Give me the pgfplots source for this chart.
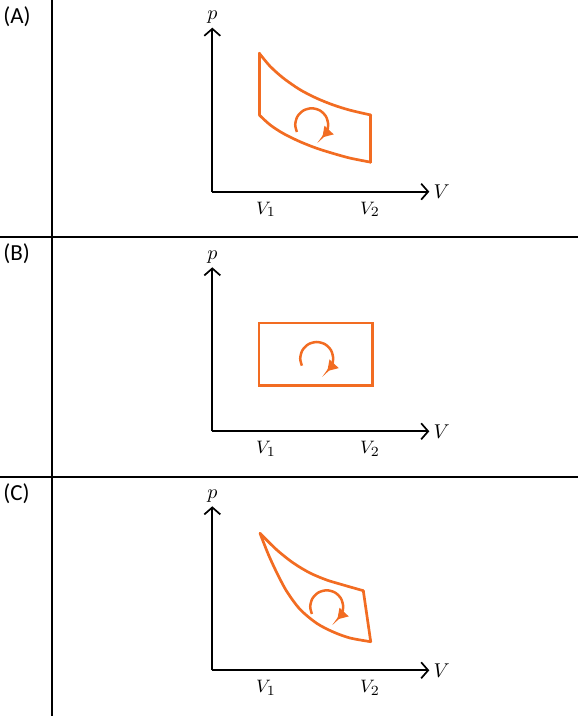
\documentclass[border=0pt]{standalone}
\usepackage{fontspec}
\setmainfont{Carlito}
\usepackage{pgfplots}
\pgfplotsset{compat=1.18}
\usetikzlibrary{arrows.meta}
\definecolor{cyc}{RGB}{242,108,34}

\pgfplotsset{pv/.style={
  scale only axis, width=108.5pt, height=82pt,
  xmin=0,xmax=217,ymin=0,ymax=164,
  axis lines=left,
  axis line style={line width=0.85pt, -{Straight Barb[length=3.5pt,width=8pt]}},
  xtick={53.7,157.7}, xticklabels={$V_1$,$V_2$},
  ytick=\empty,
  major tick length=0pt,
  xticklabel style={font=\fontsize{9.5}{10}\selectfont, yshift=-1.5pt},
  xlabel={$V$}, ylabel={$p$},
  every axis x label/.style={at={(axis description cs:1,0)}, anchor=west, inner sep=2pt, font=\fontsize{10}{10}\selectfont},
  every axis y label/.style={at={(axis description cs:0,1)}, anchor=south, inner sep=2pt, font=\fontsize{10}{10}\selectfont},
  clip=false,
  anchor=origin,
},
cycl/.style={cyc, line width=1.35pt, line cap=round, line join=round, no marks},
arr/.style={cyc, line width=1.25pt, smooth, no marks, -{Triangle[length=5pt,width=6pt]}}
}

\begin{document}
\begin{tikzpicture}
\useasboundingbox (0,0) rectangle (289pt,358pt);
% table rules
\draw[line width=1pt] (26pt,0) -- (26pt,358pt);
\draw[line width=1pt] (0,239.25pt) -- (289pt,239.25pt);
\draw[line width=1pt] (0,119.25pt) -- (289pt,119.25pt);
\node[anchor=west, inner sep=0, font=\fontsize{11.5}{12}\selectfont] at (1.5pt,349.5pt) {(A)};
\node[anchor=west, inner sep=0, font=\fontsize{11.5}{12}\selectfont] at (1.5pt,231pt) {(B)};
\node[anchor=west, inner sep=0, font=\fontsize{11.5}{12}\selectfont] at (1.5pt,111pt) {(C)};

% Panel A
\begin{axis}[pv, at={(106.15pt,262.15pt)}]
\addplot[cycl, smooth] coordinates {(47,138.4) (57.7,125.5) (71,113.6) (87.7,102) (104.4,93.4) (121,86.7) (137.7,81.5) (158.4,76.7)};
\addplot[cycl, smooth] coordinates {(47,76.7) (57.7,66.9) (71,58.2) (87.7,50) (104.4,43.4) (121,38.2) (137.7,33.6) (158.4,29.5)};
\addplot[cycl] coordinates {(47,138.4) (47,76.7)};
\addplot[cycl] coordinates {(158.4,76.7) (158.4,29.5)};
\addplot[arr] coordinates {(84.6,59.7) (82.9,66.9) (85.1,75.15) (91.15,81.2) (99.4,83.4) (107.65,81.2) (113.7,75.15) (115.9,66.9) (114.4,59.9) (110.0,54.3)};
\end{axis}

% Panel B
\begin{axis}[pv, at={(106.15pt,142.35pt)}]
\addplot[cycl, line join=miter] coordinates {(46.7,46) (160,46) (160,108.3) (46.7,108.3)} -- cycle;
\addplot[arr] coordinates {(89.6,65.6) (87.9,72.8) (90.1,81.05) (96.15,87.1) (104.4,89.3) (112.65,87.1) (118.7,81.05) (120.9,72.8) (119.4,65.8) (115.0,60.2)};
\end{axis}

% Panel C
\begin{axis}[pv, at={(106.15pt,22.85pt)}]
\addplot[cycl, smooth] coordinates {(47.7,137) (64.4,120.5) (81,107.3) (97.7,97.3) (114.4,90.3) (131,85.3) (151,79.6)};
\addplot[cycl] coordinates {(151,79.6) (158.4,28.6)};
\addplot[cycl, smooth] coordinates {(47.7,137) (56,116) (64.4,97.8) (74.4,79) (87.7,61) (104.4,47) (121,38.3) (137.7,32.3) (158.4,28.6)};
\addplot[arr] coordinates {(99.6,56.3) (97.9,63.5) (100.1,71.75) (106.15,77.8) (114.4,80) (122.65,77.8) (128.7,71.75) (130.9,63.5) (129.4,56.5) (125.0,50.9)};
\end{axis}
\end{tikzpicture}
\end{document}
